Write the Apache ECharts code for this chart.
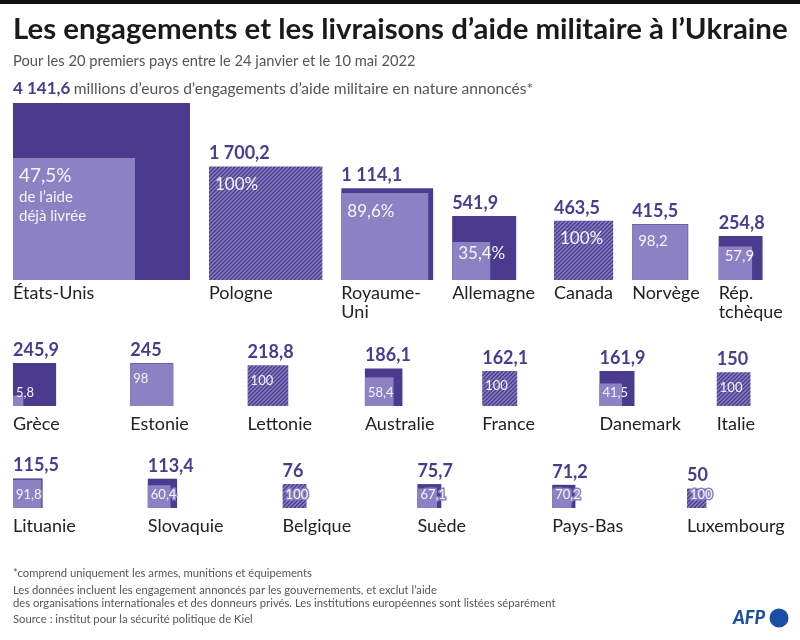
<!DOCTYPE html>
<html><head><meta charset="utf-8">
<script src="https://cdn.jsdelivr.net/npm/echarts@6/dist/echarts.min.js"></script>
<style>html,body{margin:0;padding:0;background:#fff}#c{width:800px;height:640px}</style>
</head><body><div id="c"></div>
<script>
// ---------- DATA ----------
const countries = ['États-Unis','Pologne','Royaume-\nUni','Allemagne','Canada','Norvège','Rép.\ntchèque',
  'Grèce','Estonie','Lettonie','Australie','France','Danemark','Italie',
  'Lituanie','Slovaquie','Belgique','Suède','Pays-Bas','Luxembourg'];
const engagements = [4141.6,1700.2,1114.1,541.9,463.5,415.5,254.8,
  245.9,245,218.8,186.1,162.1,161.9,150,
  115.5,113.4,76,75.7,71.2,50];
const deliveredPct = [47.5,100,89.6,35.4,100,98.2,57.9,
  5.8,98,100,58.4,100,41.5,100,
  91.8,60.4,100,67.1,70.2,100];
const rowSizes = [7,7,6];
const pctSignCount = 5; // first labels carry a % sign

// ---------- STYLE / LAYOUT ----------
const FONT = 'Lato';
const DARK = '#4a3b8f', LIGHT = '#8c82c3', TXT_IN = '#f5f4fb', NAME = '#222';
const K = 2.75;              // px per sqrt(M€)
const GRID_LEFT = 13, GRID_W = 787, GRID_H = 200;
const rowBottoms = [280, 406, 508];
const rowSteps = [null, 117.3, 134.8];
const GAP1 = 19;

function fmt(v){
  const s = (Math.round(v*10)/10).toString();
  let [a,b] = s.split('.');
  a = a.replace(/\B(?=(\d{3})+(?!\d))/g, '\u00a0');
  return b ? a + ',' + b : a;
}
const meas = document.createElement('canvas').getContext('2d');
function textW(t, font){ meas.font = font; return Math.max(...t.split('\n').map(l => meas.measureText(l).width)); }

function makePattern(){
  const c = document.createElement('canvas'); c.width = 4; c.height = 4;
  const g = c.getContext('2d');
  g.fillStyle = DARK; g.fillRect(0,0,4,4);
  g.strokeStyle = LIGHT; g.lineWidth = 1.4;
  g.beginPath();
  g.moveTo(-1,5); g.lineTo(5,-1);
  g.moveTo(-3,3); g.lineTo(3,-3);
  g.moveTo(1,7); g.lineTo(7,1);
  g.stroke();
  return c;
}
const hatch = { image: makePattern(), repeat: 'repeat' };

// build row data
let start = 0;
const rowData = rowSizes.map((n, r) => {
  const arr = [];
  let xpx = 0;
  for (let j = 0; j < n; j++){
    const i = start + j;
    const side = Math.sqrt(engagements[i]);
    if (r === 0){
      arr.push([xpx / K, side, deliveredPct[i], i]);
      xpx += Math.max(side * K, textW(countries[i], '18px ' + FONT)) + GAP1;
    } else {
      arr.push([j * rowSteps[r] / K, side, deliveredPct[i], i]);
    }
  }
  start += n;
  return arr;
});

function txt(x, y, text, o){
  return { type: 'text', x, y, silent: true,
    style: Object.assign({ text, fill: NAME, font: '18px ' + FONT, align: 'left', verticalAlign: 'top',
      textAlign: 'left', textVerticalAlign: 'top' }, o || {}) };
}

function renderer(r){
  return function(params, api){
    const s = api.value(1), pct = api.value(2), i = api.value(3);
    const bl = api.coord([api.value(0), 0]);
    const side = api.size([s, s])[0];
    const innerSide = api.size([s * Math.sqrt(pct/100), 0])[0];
    const x = bl[0], bottom = bl[1], top = bottom - side;
    const children = [];
    if (pct >= 100){
      children.push({ type: 'rect', shape: { x, y: top, width: side, height: side }, style: { fill: hatch } });
    } else {
      children.push({ type: 'rect', shape: { x, y: top, width: side, height: side }, style: { fill: DARK } });
      children.push({ type: 'rect', shape: { x, y: bottom - innerSide, width: innerSide, height: innerSide }, style: { fill: LIGHT } });
    }
    const iside = pct >= 100 ? side : innerSide;
    const itop = bottom - iside;
    const lab = fmt(pct) + (i < pctSignCount ? '%' : '');
    if (r === 0){
      const fs = i === 0 ? 19 : (i < pctSignCount ? 17 : 15);
      const cy = itop + Math.min(18, Math.max(10, iside * 0.3));
      children.push(txt(x + 6, cy, lab, { fill: TXT_IN, font: fs + 'px ' + FONT, verticalAlign: 'middle', textVerticalAlign: 'middle' }));
      if (i === 0){
        children.push(txt(x + 6, cy + 12, 'de l’aide\ndéjà livrée', { fill: TXT_IN, font: '15px ' + FONT, lineHeight: 19 }));
      } else {
        children.push(txt(x, top - 4, fmt(engagements[i]), { fill: DARK, font: 'bold 18px ' + FONT, verticalAlign: 'bottom', textVerticalAlign: 'bottom' }));
      }
      children.push(txt(x, bottom + 4, countries[i], { lineHeight: 19 }));
    } else {
      const cy = Math.min(itop + 15, bottom - 13);
      const o = { fill: TXT_IN, font: '13px ' + FONT, verticalAlign: 'middle', textVerticalAlign: 'middle' };
      if (r === 2){ o.stroke = LIGHT; o.lineWidth = 3; }
      children.push(txt(x + 3, cy, lab, o));
      children.push(txt(x, top - 4, fmt(engagements[i]), { fill: DARK, font: 'bold 18px ' + FONT, verticalAlign: 'bottom', textVerticalAlign: 'bottom' }));
      children.push(txt(x, bottom + 9, countries[i]));
    }
    return { type: 'group', children };
  };
}

const grids = [], xAxes = [], yAxes = [], series = [];
rowData.forEach((d, r) => {
  grids.push({ left: GRID_LEFT, top: rowBottoms[r] - GRID_H, width: GRID_W, height: GRID_H, containLabel: false });
  xAxes.push({ type: 'value', gridIndex: r, min: 0, max: GRID_W / K, show: false });
  yAxes.push({ type: 'value', gridIndex: r, min: 0, max: GRID_H / K, show: false });
  series.push({ type: 'custom', xAxisIndex: r, yAxisIndex: r, data: d, renderItem: renderer(r), animation: false, clip: false });
});

const foot = { fill: '#555', font: '11.25px ' + FONT };
const chart = echarts.init(document.getElementById('c'), null, { renderer: 'canvas' });
chart.setOption({
  backgroundColor: '#fff',
  animation: false,
  grid: grids, xAxis: xAxes, yAxis: yAxes, series,
  graphic: [
    { type: 'rect', shape: { x: 0, y: 0, width: 800, height: 4 }, style: { fill: '#111' } },
    { type: 'text', x: 13, y: 30, style: { text: 'Les engagements et les livraisons d’aide militaire à l’Ukraine', fill: '#1a1a1a', font: 'bold 29.4px ' + FONT, verticalAlign: 'middle', textVerticalAlign: 'middle' } },
    { type: 'text', x: 13, y: 61, style: { text: 'Pour les 20 premiers pays entre le 24 janvier et le 10 mai 2022', fill: '#555', font: '14.7px ' + FONT, verticalAlign: 'middle', textVerticalAlign: 'middle' } },
    { type: 'text', x: 13, y: 89, style: { text: '{a|' + fmt(engagements[0]) + '} {b|millions d’euros d’engagements d’aide militaire en nature annoncés*}',
        verticalAlign: 'middle', textVerticalAlign: 'middle',
        rich: { a: { fill: DARK, font: 'bold 17px ' + FONT }, b: { fill: '#555', font: '15.6px ' + FONT } } } },
    { type: 'text', x: 13, y: 573, style: Object.assign({ text: '*comprend uniquement les armes, munitions et équipements', verticalAlign: 'middle', textVerticalAlign: 'middle' }, foot) },
    { type: 'text', x: 13, y: 590, style: Object.assign({ text: 'Les données incluent les engagement annoncés par les gouvernements, et exclut l’aide', verticalAlign: 'middle', textVerticalAlign: 'middle' }, foot) },
    { type: 'text', x: 13, y: 603, style: Object.assign({ text: 'des organisations internationales et des donneurs privés. Les institutions européennes sont listées séparément', verticalAlign: 'middle', textVerticalAlign: 'middle' }, foot) },
    { type: 'text', x: 13, y: 619, style: Object.assign({ text: 'Source : institut pour la sécurité politique de Kiel', verticalAlign: 'middle', textVerticalAlign: 'middle' }, foot) },
    { type: 'text', x: 733, y: 618, style: { text: 'AFP', fill: '#1c4ea3', font: 'italic 900 18px ' + FONT, verticalAlign: 'middle', textVerticalAlign: 'middle' } },
    { type: 'circle', shape: { cx: 779, cy: 618, r: 9.5 }, style: { fill: '#1c4ea3' } }
  ]
});
</script></body></html>
